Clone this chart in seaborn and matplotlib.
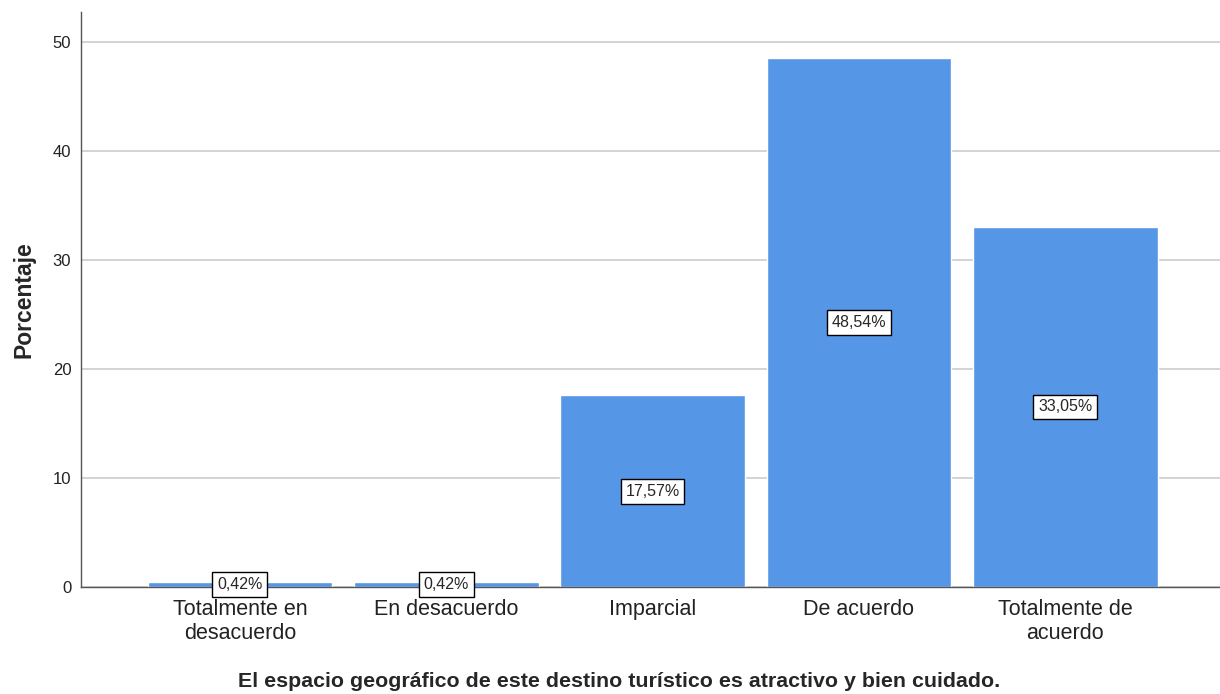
import matplotlib
matplotlib.use("Agg")
import matplotlib.pyplot as plt
import seaborn as sns
import pandas as pd

categories = ["Totalmente en\ndesacuerdo", "En desacuerdo", "Imparcial",
              "De acuerdo", "Totalmente de\nacuerdo"]
percentages = [0.42, 0.42, 17.57, 48.54, 33.05]
value_labels = ["0,42%", "0,42%", "17,57%", "48,54%", "33,05%"]
y_ticks = [0, 10, 20, 30, 40, 50]

sns.set_style("white")
plt.rcParams["font.family"] = ["Liberation Sans", "DejaVu Sans"]

df = pd.DataFrame({"categoria": categories, "porcentaje": percentages})

fig = plt.figure(figsize=(12.2, 6.94), dpi=100)
ax = fig.add_axes([0.0664, 0.1542, 0.9336, 0.8285])

sns.barplot(data=df, x="categoria", y="porcentaje", color="#5596E6",
            saturation=1, width=0.895, ax=ax)

for i, (v, lab) in enumerate(zip(percentages, value_labels)):
    ax.text(i, v / 2, lab, ha="center", va="center", fontsize=11.5,
            bbox=dict(boxstyle="square,pad=0.3", fc="white", ec="black", lw=1))

ax.set_xlim(-0.77, 4.75)
ax.set_ylim(0, 52.75)
ax.set_yticks(y_ticks)
ax.yaxis.grid(True, color="#cccccc", linewidth=1.2)
ax.set_axisbelow(True)

for side in ["top", "right"]:
    ax.spines[side].set_visible(False)
for side in ["left", "bottom"]:
    ax.spines[side].set_color("#555555")
    ax.spines[side].set_linewidth(1)

ax.tick_params(axis="y", labelsize=12, length=0, pad=7, colors="#222222")
ax.tick_params(axis="x", labelsize=15.5, length=0, pad=9, colors="#222222")
for t in ax.get_xticklabels():
    t.set_linespacing(1.15)

ax.set_ylabel("Porcentaje", fontsize=16.5, fontweight="bold", labelpad=12)
ax.set_xlabel("El espacio geográfico de este destino turístico es atractivo y bien cuidado.",
              fontsize=15.4, fontweight="bold")
ax.xaxis.set_label_coords(0.4723, -0.148)

fig.savefig("out.png", dpi=100)
